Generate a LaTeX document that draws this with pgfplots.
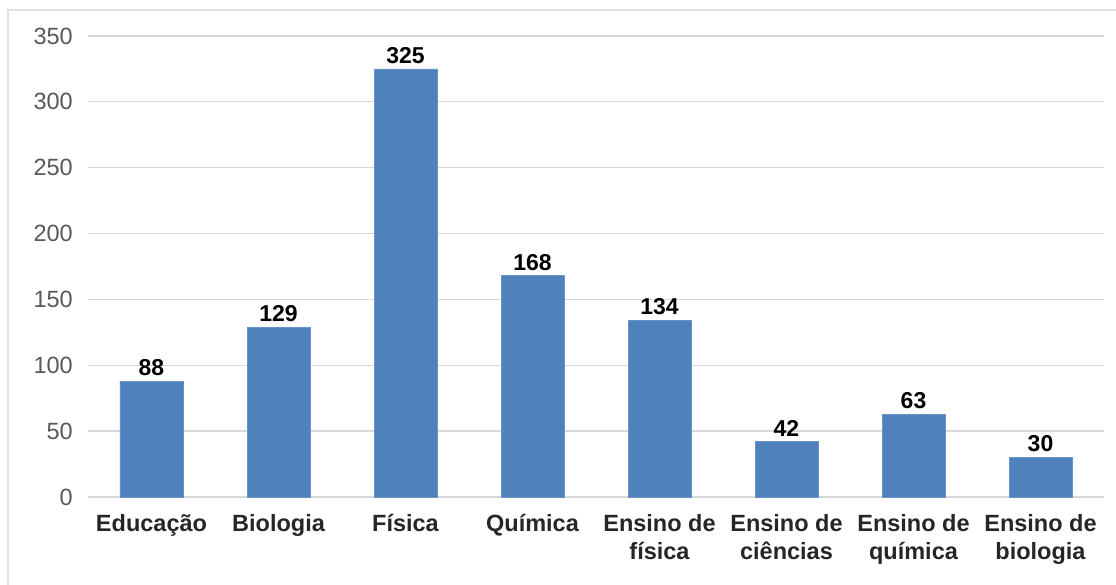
\documentclass[border=0pt]{standalone}
\usepackage{pgfplots}
\pgfplotsset{compat=1.18}
\usepackage{fontspec}
\setmainfont{Liberation Sans}

\definecolor{barblue}{HTML}{4F81BD}
\definecolor{gridgray}{HTML}{D9D9D9}
\definecolor{ticktext}{HTML}{595959}
\definecolor{framegray}{HTML}{E3E3E3}

\begin{document}
\begin{tikzpicture}
  \useasboundingbox (0,0) rectangle (1116pt,585pt);
  \fill[white] (0,0) rectangle (1116pt,585pt);
  % outer chart frame (left and top edges)
  \draw[framegray, line width=1.5pt] (8pt,0) -- (8pt,575pt) -- (1116pt,575pt);
  \begin{axis}[
    at={(88pt,88pt)}, anchor=south west,
    scale only axis,
    width=1016pt, height=461pt,
    ybar, bar width=63pt,
    xmin=-0.5, xmax=7.5,
    ymin=0, ymax=350,
    enlargelimits=false,
    ytick={0,50,...,350},
    xtick=data,
    xticklabels={Educação, Biologia, Física, Química,
      {Ensino de\\física}, {Ensino de\\ciências},
      {Ensino de\\química}, {Ensino de\\biologia}},
    major tick length=0pt,
    axis line style={draw=none},
    ymajorgrids,
    grid style={gridgray, line width=1.3pt},
    /pgf/number format/assume math mode=true,
    yticklabel style={font=\fontsize{23.5}{28.3}\selectfont, text=ticktext,
      inner sep=0pt, xshift=-15pt},
    xticklabel style={font=\fontsize{23.5}{28.3}\selectfont\bfseries,
      text=black!85, align=center, anchor=north, inner sep=0pt, yshift=-17pt},
    nodes near coords,
    every node near coord/.append style={font=\fontsize{23}{27}\selectfont\bfseries,
      text=black, inner sep=0pt, yshift=5pt},
    clip=false,
  ]
    \addplot[fill=barblue, draw=barblue!85!white, line width=0.6pt]
      coordinates {(0,88) (1,129) (2,325) (3,168) (4,134) (5,42) (6,63) (7,30)};
  \end{axis}
\end{tikzpicture}
\end{document}
